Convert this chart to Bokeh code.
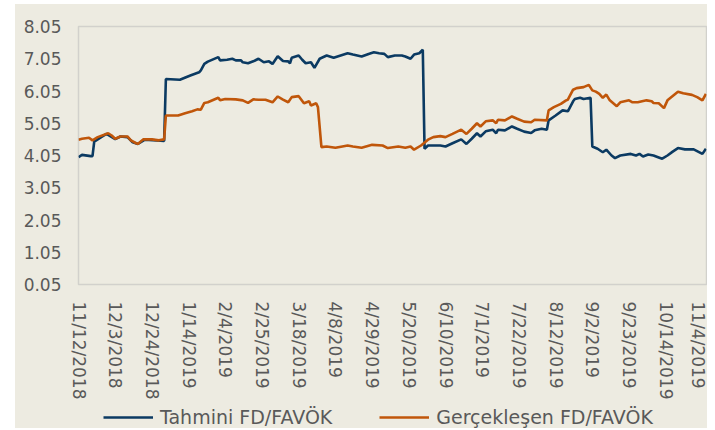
import pandas as pd
from bokeh.plotting import figure
from bokeh.models import Range1d, FixedTicker, Legend, LegendItem, Spacer
from bokeh.layouts import row, column
from bokeh.embed import file_html
from bokeh.resources import INLINE

# ---------------- data ----------------
tick_labels = ["11/12/2018", "12/3/2018", "12/24/2018", "1/14/2019", "2/4/2019",
               "2/25/2019", "3/18/2019", "4/8/2019", "4/29/2019", "5/20/2019",
               "6/10/2019", "7/1/2019", "7/22/2019", "8/12/2019", "9/2/2019",
               "9/23/2019", "10/14/2019", "11/4/2019"]
y_tick_values = [0.05, 1.05, 2.05, 3.05, 4.05, 5.05, 6.05, 7.05, 8.05]
y_tick_labels = ["0.05", "1.05", "2.05", "3.05", "4.05", "5.05", "6.05", "7.05", "8.05"]

tahmini_dates = [
    "2018-11-12", "2018-11-14", "2018-11-19", "2018-11-20", "2018-11-21", "2018-11-25",
    "2018-11-28", "2018-12-03", "2018-12-06", "2018-12-10", "2018-12-13", "2018-12-16",
    "2018-12-20", "2018-12-29", "2018-12-31", "2019-01-01", "2019-01-09", "2019-01-15",
    "2019-01-20", "2019-01-21", "2019-01-23", "2019-01-25", "2019-01-31", "2019-02-01",
    "2019-02-05", "2019-02-08", "2019-02-10", "2019-02-13", "2019-02-14", "2019-02-17",
    "2019-02-20", "2019-02-23", "2019-02-26", "2019-03-01", "2019-03-03", "2019-03-06",
    "2019-03-09", "2019-03-12", "2019-03-13", "2019-03-14", "2019-03-18", "2019-03-20",
    "2019-03-22", "2019-03-25", "2019-03-27", "2019-03-30", "2019-04-03", "2019-04-07",
    "2019-04-11", "2019-04-15", "2019-04-18", "2019-04-23", "2019-04-27", "2019-04-30",
    "2019-05-03", "2019-05-06", "2019-05-08", "2019-05-12", "2019-05-16", "2019-05-18",
    "2019-05-21", "2019-05-23", "2019-05-26", "2019-05-28", "2019-05-29", "2019-05-31",
    "2019-06-07", "2019-06-10", "2019-06-14", "2019-06-19", "2019-06-22", "2019-06-25",
    "2019-06-28", "2019-06-30", "2019-07-03", "2019-07-07", "2019-07-09", "2019-07-10",
    "2019-07-14", "2019-07-18", "2019-07-21", "2019-07-25", "2019-07-29", "2019-07-31",
    "2019-08-04", "2019-08-07", "2019-08-08", "2019-08-12", "2019-08-16", "2019-08-19",
    "2019-08-22", "2019-08-23", "2019-08-26", "2019-08-28", "2019-09-01", "2019-09-02",
    "2019-09-05", "2019-09-08", "2019-09-10", "2019-09-13", "2019-09-15", "2019-09-18",
    "2019-09-24", "2019-09-27", "2019-09-29", "2019-10-01", "2019-10-04", "2019-10-07",
    "2019-10-10", "2019-10-12", "2019-10-15", "2019-10-18", "2019-10-21", "2019-10-25",
    "2019-10-30", "2019-11-04", "2019-11-06"]
tahmini_values = [
    4.00, 4.07, 4.03, 4.03, 4.48, 4.62,
    4.72, 4.56, 4.64, 4.62, 4.46, 4.41,
    4.54, 4.51, 4.50, 6.42, 6.40, 6.53,
    6.63, 6.69, 6.89, 6.96, 7.10, 7.00,
    7.02, 7.05, 7.00, 7.00, 6.94, 6.91,
    6.97, 7.05, 6.94, 6.97, 6.89, 7.13,
    6.98, 6.97, 6.91, 7.08, 7.15, 7.02,
    6.91, 6.94, 6.77, 7.05, 7.15, 7.08,
    7.15, 7.22, 7.18, 7.12, 7.20, 7.25,
    7.22, 7.20, 7.10, 7.15, 7.15, 7.12,
    7.05, 7.18, 7.22, 7.33, 4.26, 4.36,
    4.36, 4.33, 4.43, 4.55, 4.41, 4.57,
    4.74, 4.64, 4.80, 4.85, 4.74, 4.85,
    4.83, 4.95, 4.88, 4.79, 4.75, 4.83,
    4.88, 4.85, 5.14, 5.29, 5.45, 5.42,
    5.73, 5.80, 5.84, 5.80, 5.84, 4.33,
    4.26, 4.15, 4.23, 4.05, 3.97, 4.05,
    4.10, 4.05, 4.10, 4.02, 4.08, 4.05,
    3.99, 3.95, 4.05, 4.17, 4.28, 4.24,
    4.24, 4.10, 4.26]

gercek_dates = [
    "2018-11-12", "2018-11-14", "2018-11-18", "2018-11-20", "2018-11-23", "2018-11-29",
    "2018-12-01", "2018-12-03", "2018-12-06", "2018-12-10", "2018-12-12", "2018-12-15",
    "2018-12-16", "2018-12-19", "2018-12-24", "2018-12-28", "2018-12-31", "2019-01-01",
    "2019-01-08", "2019-01-12", "2019-01-16", "2019-01-19", "2019-01-21", "2019-01-23",
    "2019-01-25", "2019-01-28", "2019-01-31", "2019-02-01", "2019-02-04", "2019-02-10",
    "2019-02-14", "2019-02-17", "2019-02-20", "2019-02-23", "2019-02-27", "2019-03-03",
    "2019-03-06", "2019-03-09", "2019-03-12", "2019-03-14", "2019-03-18", "2019-03-21",
    "2019-03-24", "2019-03-25", "2019-03-28", "2019-03-29", "2019-03-31", "2019-04-03",
    "2019-04-08", "2019-04-12", "2019-04-15", "2019-04-18", "2019-04-23", "2019-04-29",
    "2019-05-05", "2019-05-08", "2019-05-14", "2019-05-18", "2019-05-21", "2019-05-23",
    "2019-05-27", "2019-05-31", "2019-06-03", "2019-06-07", "2019-06-10", "2019-06-14",
    "2019-06-19", "2019-06-22", "2019-06-25", "2019-06-28", "2019-06-30", "2019-07-03",
    "2019-07-07", "2019-07-09", "2019-07-10", "2019-07-14", "2019-07-18", "2019-07-21",
    "2019-07-25", "2019-07-29", "2019-07-31", "2019-08-07", "2019-08-08", "2019-08-11",
    "2019-08-15", "2019-08-18", "2019-08-19", "2019-08-22", "2019-08-24", "2019-08-28",
    "2019-08-31", "2019-09-02", "2019-09-04", "2019-09-06", "2019-09-08", "2019-09-10",
    "2019-09-12", "2019-09-16", "2019-09-18", "2019-09-23", "2019-09-25", "2019-09-28",
    "2019-10-03", "2019-10-06", "2019-10-07", "2019-10-10", "2019-10-13", "2019-10-15",
    "2019-10-21", "2019-10-24", "2019-10-29", "2019-11-01", "2019-11-04", "2019-11-06"]
gercek_values = [
    4.54, 4.57, 4.60, 4.52, 4.62, 4.74,
    4.67, 4.57, 4.64, 4.64, 4.52, 4.43,
    4.41, 4.55, 4.55, 4.52, 4.55, 5.29,
    5.29, 5.36, 5.42, 5.48, 5.47, 5.68,
    5.70, 5.77, 5.84, 5.76, 5.80, 5.79,
    5.76, 5.68, 5.79, 5.78, 5.78, 5.70,
    5.88, 5.78, 5.70, 5.86, 5.89, 5.67,
    5.73, 5.60, 5.67, 5.55, 4.31, 4.33,
    4.29, 4.33, 4.36, 4.33, 4.29, 4.38,
    4.36, 4.28, 4.33, 4.29, 4.33, 4.23,
    4.36, 4.54, 4.62, 4.65, 4.62, 4.72,
    4.85, 4.72, 4.88, 5.05, 4.95, 5.11,
    5.14, 5.05, 5.16, 5.14, 5.26, 5.19,
    5.10, 5.08, 5.16, 5.14, 5.45, 5.55,
    5.65, 5.76, 5.78, 6.09, 6.14, 6.17,
    6.24, 6.07, 6.03, 5.96, 5.84, 5.94,
    5.76, 5.58, 5.70, 5.76, 5.70, 5.70,
    5.76, 5.73, 5.68, 5.67, 5.52, 5.76,
    6.03, 5.98, 5.93, 5.86, 5.76, 5.96]

series_names = ["Tahmini FD/FAVÖK", "Gerçekleşen FD/FAVÖK"]
series_colors = ["#0B3A62", "#C0560A"]

# ---------------- styling ----------------
BG = "#EDEBE1"
TXT = "#595959"
FONT = "DejaVu Sans"
LW = 2.6

x_start = pd.Timestamp("2018-11-12")
x_end = pd.Timestamp("2019-11-06 08:00")

p = figure(width=692, height=398, x_axis_type="datetime",
           x_range=Range1d(x_start, x_end), y_range=Range1d(0.05, 8.05),
           output_backend="svg", toolbar_location=None,
           min_border_left=63, min_border_right=1, min_border_top=22,
           min_border_bottom=118)
p.background_fill_color = BG
p.border_fill_color = BG
p.outline_line_color = "#D2D1CC"
p.outline_line_width = 1.5
p.grid.visible = False

p.line(pd.to_datetime(tahmini_dates), tahmini_values,
       line_color=series_colors[0], line_width=LW)
p.line(pd.to_datetime(gercek_dates), gercek_values,
       line_color=series_colors[1], line_width=LW)

tick_ts = pd.to_datetime(tick_labels, format="%m/%d/%Y")
tick_ms = [int(t.value // 10**6) for t in tick_ts]
p.xaxis.ticker = FixedTicker(ticks=tick_ms)
p.xaxis.major_label_overrides = {ms: lab for ms, lab in zip(tick_ms, tick_labels)}
p.xaxis.major_label_orientation = "vertical"
p.yaxis.ticker = FixedTicker(ticks=y_tick_values)
p.yaxis.major_label_overrides = {v: lab for v, lab in zip(y_tick_values, y_tick_labels)}

for ax in (p.xaxis, p.yaxis):
    ax.axis_line_color = None
    ax.major_tick_line_color = None
    ax.minor_tick_line_color = None
    ax.major_tick_out = 0
    ax.major_tick_in = 0
    ax.minor_tick_out = 0
    ax.minor_tick_in = 0
    ax.major_label_text_font = FONT
    ax.major_label_text_font_size = "17px"
    ax.major_label_text_color = TXT
    ax.major_label_standoff = 17

# ---------------- legend strip ----------------
lg = figure(width=692, height=26, x_range=Range1d(0, 1), y_range=Range1d(0, 1),
            x_axis_location=None, y_axis_location=None,
            output_backend="svg", toolbar_location=None,
            min_border_left=0, min_border_right=0, min_border_top=0, min_border_bottom=0)
lg.grid.visible = False
lg.outline_line_color = None
lg.background_fill_color = BG
lg.border_fill_color = BG
nan = float("nan")
d1 = lg.line(x=[nan], y=[nan], line_color=series_colors[0], line_width=LW)
d2 = lg.line(x=[nan], y=[nan], line_color=series_colors[1], line_width=LW)

legend = Legend(items=[LegendItem(label=series_names[0], renderers=[d1]),
                       LegendItem(label=series_names[1], renderers=[d2])],
                orientation="horizontal", location=(25, 0))
legend.label_text_font = FONT
legend.label_text_font_size = "19px"
legend.label_text_color = TXT
legend.glyph_width = 50
legend.glyph_height = 20
legend.label_height = 20
legend.label_standoff = 7
legend.spacing = 47
legend.padding = 0
legend.margin = 0
legend.border_line_color = None
legend.background_fill_alpha = 0
lg.add_layout(legend, "center")

inner = column(p, lg, spacing=0, styles={"background-color": BG})
layout = row(Spacer(width=15, height=428),
             column(Spacer(width=692, height=4), inner, spacing=0), spacing=0)

open("out.html", "w").write(file_html(layout, INLINE))
